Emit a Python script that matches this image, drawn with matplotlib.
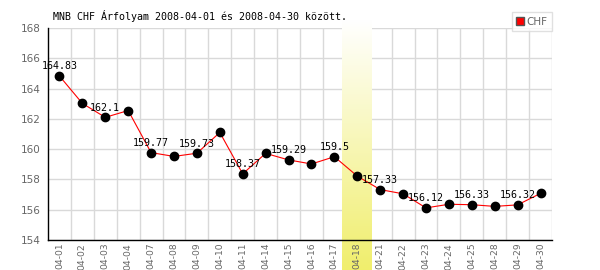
import matplotlib
matplotlib.use("Agg")
import matplotlib.pyplot as plt
import numpy as np
from matplotlib.colors import LinearSegmentedColormap
from matplotlib.transforms import blended_transform_factory
from matplotlib.lines import Line2D

# Data
dates = ["04-01", "04-02", "04-03", "04-04", "04-07", "04-08", "04-09", "04-10",
         "04-11", "04-14", "04-15", "04-16", "04-17", "04-18", "04-21", "04-22",
         "04-23", "04-24", "04-25", "04-28", "04-29", "04-30"]
chf = [164.83, 163.02, 162.1, 162.55, 159.77, 159.52, 159.73, 161.1,
       158.37, 159.72, 159.29, 159.02, 159.5, 158.22, 157.33, 157.05,
       156.12, 156.36, 156.33, 156.22, 156.32, 157.08]
highlight = "04-18"
title = "MNB CHF Árfolyam 2008-04-01 és 2008-04-30 között."

GRID = "#d9d9d9"
TICK = "#666666"
RED = "#ff0000"
MONO = "DejaVu Sans Mono"

fig = plt.figure(figsize=(6, 2.7), dpi=100)
fig.patch.set_facecolor("white")
ax = fig.add_axes([48 / 600, 1 - 240 / 270, 504 / 600, 212 / 270])
ax.set_facecolor("white")

x = np.arange(len(dates))

# grid (drawn by hand so the highlight band sits on top of it)
for yv in range(154, 169, 2):
    ax.axhline(yv, color=GRID, lw=1, zorder=0)
for xv in x + 0.5:
    ax.axvline(xv, color=GRID, lw=1, zorder=0)

# highlighted day: vertical gradient band
hi = dates.index(highlight)
cmap = LinearSegmentedColormap.from_list("hl", ["#ffffff", "#f0ee6c"])
grad = np.linspace(0, 1, 256).reshape(-1, 1)
ax.imshow(grad, cmap=cmap, aspect="auto", origin="upper",
          extent=(hi - 0.65, hi + 0.65, -0.145, 1.035),
          transform=blended_transform_factory(ax.transData, ax.transAxes),
          clip_on=False, zorder=1)
ax.set_xlim(-0.5, len(dates) - 0.5)
ax.set_ylim(154, 168)

# series
ax.plot(x, chf, color=RED, lw=0.8, zorder=3)
ax.plot(x, chf, "o", color="black", ms=6, zorder=4)

# value labels on every other point
for i in range(0, len(dates), 2):
    ax.annotate(f"{chf[i]:g}", (x[i], chf[i]), xytext=(0, 7), textcoords="offset points",
                ha="center", va="center", fontsize=7.2, family=MONO, color="black", zorder=5)

# axes styling
for s in ("top", "right"):
    ax.spines[s].set_visible(False)
for s in ("left", "bottom"):
    ax.spines[s].set_color("black")
    ax.spines[s].set_linewidth(1)
ax.set_xticks(x)
ax.set_xticklabels(dates, rotation=90)
ax.set_yticks(range(154, 169, 2))
ax.tick_params(length=0, labelcolor=TICK)
ax.tick_params(axis="y", pad=5, labelsize=7.5)
ax.tick_params(axis="x", pad=2, labelsize=6.6)

fig.text(53 / 600, 1 - 16 / 270, title, family=MONO, fontsize=7.2,
         ha="left", va="center", color="black")

handle = Line2D([], [], marker="s", ls="none", markerfacecolor=RED,
                markeredgecolor="#555555", markersize=5.5)
leg = ax.legend([handle], ["CHF"], loc="upper right",
                bbox_to_anchor=(552 / 600, 1 - 12 / 270), bbox_transform=fig.transFigure,
                borderaxespad=0, frameon=True, fancybox=False, handlelength=0.6,
                handletextpad=0.3, borderpad=0.45, prop={"size": 7.5})
leg.get_frame().set_edgecolor(GRID)
leg.get_frame().set_linewidth(1)
for t in leg.get_texts():
    t.set_color(TICK)

fig.savefig("out.png", dpi=100, facecolor="white")
